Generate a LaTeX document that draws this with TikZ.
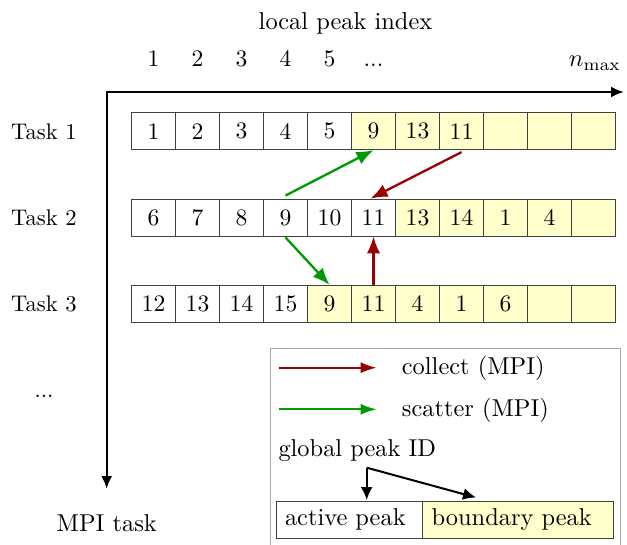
\documentclass[tikz,border=0pt]{standalone}
\usepackage{graphicx}
\usetikzlibrary{arrows.meta}
\definecolor{yel}{RGB}{255,255,204}
\definecolor{dred}{RGB}{153,0,0}
\definecolor{dgreen}{RGB}{0,153,0}
\newcommand\sbx[1]{\scalebox{2.44}{#1}}
\newcommand\sbt[1]{\scalebox{2.26}{#1}}
\newcommand\sbc[1]{\scalebox{2.36}{#1}}
\begin{document}
\begin{tikzpicture}[x=1pt,y=-1pt,
  every node/.style={inner sep=0pt},
  cell/.style={draw=black!75, line width=0.9pt, minimum width=44pt, minimum height=37pt, inner sep=0pt},
  tasklbl/.style={anchor=base west},
  axis/.style={line width=2.4pt, line join=miter, {Latex[length=13pt,width=11pt]}-{Latex[length=13pt,width=11pt]}},
  mpi/.style={line width=2.3pt, -{Latex[length=17pt,width=13.5pt]}},
  legarr/.style={line width=2.2pt, -{Latex[length=16pt,width=11pt]}},
  blk/.style={line width=2pt, -{Latex[length=13pt,width=12pt]}},
  legbox/.style={draw=black!75, line width=0.9pt, minimum height=37.3pt, inner xsep=9pt, align=left}
]
\useasboundingbox (0,0) rectangle (627,545);

% top labels
\node[anchor=base] (lpi) at (345.5,29.5) {\sbx{local peak index}};
\foreach \t [count=\i] in {1,2,3,4,5} {
  \node[anchor=base] (col\i) at ({109.5+44*\i},66.7) {\sbc{\t}};
}
\node[anchor=base] (coldots) at (373.5,66.7) {\sbc{...}};
\node[anchor=base east] (nmax) at (621,66.7) {\sbx{$n_{\max}$}};

% axes
\coordinate (O) at (106.7,92);
\coordinate (xend) at (624,92);
\coordinate (yend) at (106.7,489);
\draw[axis] (xend) -- (O) -- (yend);

% task labels
\node[tasklbl] (t1) at (11,139.3) {\sbt{Task 1}};
\node[tasklbl] (t2) at (11,225.6) {\sbt{Task 2}};
\node[tasklbl] (t3) at (11,311.9) {\sbt{Task 3}};
\node[anchor=base] (tdots) at (44,397.7) {\sbt{...}};
\node[anchor=base] (mpitask) at (106.7,531) {\sbx{MPI task}};

% rows
\foreach \t [count=\i] in {1,2,3,4,5,9,13,11,{},{},{}} {
  \ifnum\i>5 \def\f{yel}\else\def\f{white}\fi
  \node[cell, fill=\f] (r1c\i) at ({109.5+44*\i},131.2) {\sbc{\t}};
}
\foreach \t [count=\i] in {6,7,8,9,10,11,13,14,1,4,{}} {
  \ifnum\i>6 \def\f{yel}\else\def\f{white}\fi
  \node[cell, fill=\f] (r2c\i) at ({109.5+44*\i},217.5) {\sbc{\t}};
}
\foreach \t [count=\i] in {12,13,14,15,9,11,4,1,6,{},{}} {
  \ifnum\i>4 \def\f{yel}\else\def\f{white}\fi
  \node[cell, fill=\f] (r3c\i) at ({109.5+44*\i},303.8) {\sbc{\t}};
}

% MPI arrows
\draw[mpi, dgreen] ([yshift=3pt]r2c4.north) -- (r1c6.south);
\draw[mpi, dgreen] ([yshift=-1pt]r2c4.south) -- (r3c5.north);
\draw[mpi, dred] ([yshift=-2pt]r1c8.south) -- ([xshift=-3pt]r2c6.north);
\draw[mpi, dred] (r3c6.north) -- (r2c6.south);

% legend
\draw[draw=black!35, line width=1pt] (270,348.3) rectangle (620,560);
\coordinate (ca) at (279,367.7);
\coordinate (cb) at (376.7,367.7);
\draw[legarr, dred] (ca) -- (cb);
\node[anchor=base west] (lcol) at (401.7,375) {\sbx{collect (MPI)}};
\coordinate (sa) at (279,409.3);
\coordinate (sb) at (376.7,409.3);
\draw[legarr, dgreen] (sa) -- (sb);
\node[anchor=base west] (lsca) at (401.7,416.5) {\sbx{scatter (MPI)}};
\node[anchor=base west] (gpid) at (278.3,456.7) {\sbx{global peak ID}};

\node[legbox, fill=white, minimum width=146.7pt, text width=128.7pt] (ap) at (349.35,519.65) {\sbx{active peak}};
\node[legbox, fill=yel, minimum width=190.6pt, text width=172.6pt] (bp) at (518,519.65) {\sbx{boundary peak}};

\coordinate (g) at (366.7,467.7);
\coordinate (g1) at (366.7,500);
\coordinate (g2) at (476,497.5);
\draw[blk] (g) -- (g1);
\draw[blk] (g) -- (g2);
\end{tikzpicture}
\end{document}
